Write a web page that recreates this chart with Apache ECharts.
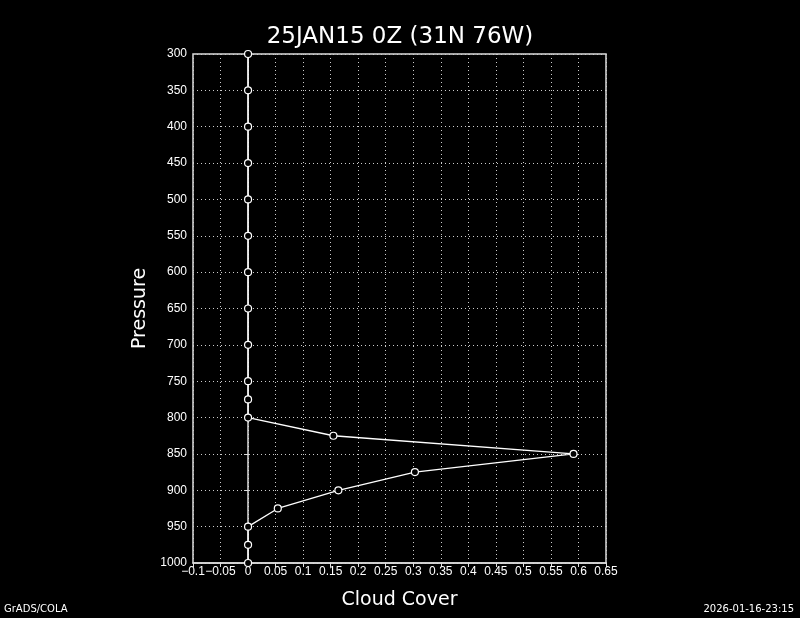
<!DOCTYPE html>
<html>
<head>
<meta charset="utf-8">
<script src="https://cdn.jsdelivr.net/npm/echarts@6/dist/echarts.min.js"></script>
<style>
  html, body { margin: 0; padding: 0; background: #000; }
  #chart { width: 800px; height: 618px; }
</style>
</head>
<body>
<div id="chart"></div>
<script>
// pressure levels (hPa) and cloud cover
var pressureLevels = [300, 350, 400, 450, 500, 550, 600, 650, 700, 750, 775, 800, 825, 850, 875, 900, 925, 950, 975, 1000];
var cloudCover = [0, 0, 0, 0, 0, 0, 0, 0, 0, 0, 0, 0, 0.155, 0.591, 0.303, 0.164, 0.054, 0, 0, 0];

var titleText = "25JAN15 0Z (31N 76W)";
var xName = "Cloud Cover";
var yName = "Pressure";

var chart = echarts.init(document.getElementById("chart"));

var points = pressureLevels.map(function (p, i) {
  return [cloudCover[i], p];
});

var fontFam = "DejaVu Sans, sans-serif";
var labelFam = "Liberation Sans, Arial, sans-serif";

chart.setOption({
  backgroundColor: "#000",
  animation: false,
  title: {
    text: titleText,
    left: "center",
    top: 21,
    textStyle: { color: "#fff", fontSize: 23, fontWeight: "normal", fontFamily: fontFam },
  },
  graphic: [
    {
      type: "text",
      left: 4,
      top: 604,
      style: { text: "GrADS/COLA", fill: "#fff", fontSize: 10, fontFamily: fontFam },
    },
    {
      type: "text",
      right: 6,
      top: 604,
      style: { text: "2026-01-16-23:15", fill: "#fff", fontSize: 10, fontFamily: fontFam },
    },
  ],
  grid: {
    left: 193,
    right: 194,
    top: 54,
    bottom: 55,
    show: true,
    borderColor: "#ddd",
    borderWidth: 1.5,
  },
  xAxis: {
    type: "value",
    min: -0.1,
    max: 0.65,
    interval: 0.05,
    name: xName,
    nameLocation: "middle",
    nameGap: 28,
    nameTextStyle: { color: "#fff", fontSize: 19, fontFamily: fontFam },
    axisLine: { show: true, lineStyle: { color: "#ddd", width: 1.5 } },
    axisTick: { show: true, length: 4, lineStyle: { color: "#ddd" } },
    axisLabel: {
      color: "#fff",
      fontSize: 12,
      margin: 3,
      interval: 0,
      fontFamily: labelFam,
      showMinLabel: true,
      showMaxLabel: true,
      hideOverlap: false,
      formatter: function (v) {
        return String(+v.toFixed(2)).replace("-", "\u2212");
      },
    },
    splitLine: { show: true, lineStyle: { color: "#ccc", type: [1, 3], width: 1 } },
  },
  yAxis: {
    type: "value",
    min: 300,
    max: 1000,
    interval: 50,
    inverse: true,
    name: yName,
    nameLocation: "middle",
    nameGap: 36,
    nameRotate: 90,
    nameTextStyle: { color: "#fff", fontSize: 19, fontFamily: fontFam },
    axisLine: { show: true, lineStyle: { color: "#ddd", width: 1.5 } },
    axisTick: { show: true, length: 4, lineStyle: { color: "#ddd" } },
    axisLabel: {
      color: "#fff",
      fontSize: 12,
      margin: 6,
      fontFamily: labelFam,
      showMinLabel: true,
      showMaxLabel: true,
      formatter: function (v) { return String(v); },
    },
    splitLine: { show: true, lineStyle: { color: "#ccc", type: [1, 3], width: 1 } },
  },
  series: [
    {
      type: "line",
      data: points,
      symbol: "circle",
      symbolSize: 7,
      itemStyle: { color: "#000", borderColor: "#fff", borderWidth: 1.2 },
      lineStyle: { color: "#fff", width: 1.3 },
      clip: false,
    },
  ],
});
</script>
</body>
</html>
